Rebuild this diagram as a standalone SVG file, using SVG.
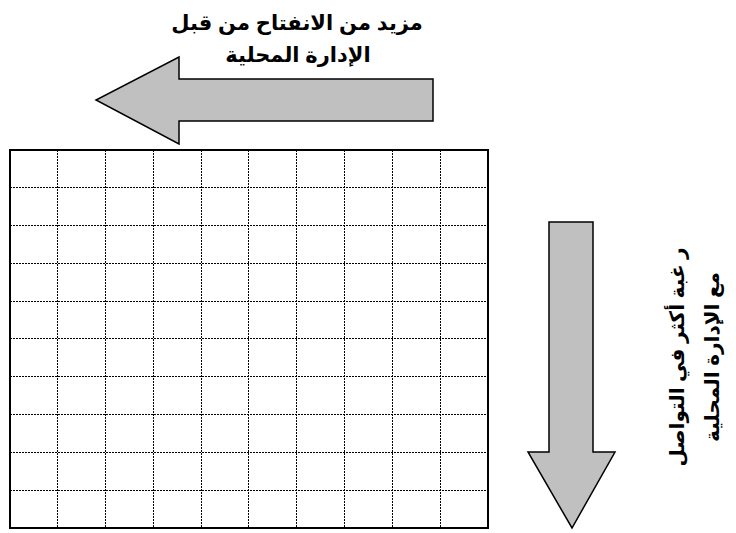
<svg xmlns="http://www.w3.org/2000/svg" width="736" height="533" viewBox="0 0 736 533">
<style>
.lbl{font-family:"Liberation Sans","DejaVu Sans",sans-serif;font-weight:bold;font-size:21px;fill:#000}
.vl{font-family:"Liberation Sans","DejaVu Sans",sans-serif;font-weight:bold;font-size:20px;fill:#000}
.arrow{fill:#c0c0c0;stroke:#000;stroke-width:1.5;stroke-linejoin:miter}
.g{stroke:#000;stroke-width:1;stroke-dasharray:2 1;fill:none}
</style>
<rect width="736" height="533" fill="#fff"/>
<g id="grid">
<g class="g">
<path d="M57.5 150V528M105.5 150V528M153.5 150V528M201.5 150V528M248.5 150V528M296.5 150V528M344.5 150V528M392.5 150V528M440.5 150V528"/>
<path d="M10 187.5H488M10 225.5H488M10 263.5H488M10 301.5H488M10 338.5H488M10 376.5H488M10 414.5H488M10 452.5H488M10 490.5H488"/>
</g>
<rect x="10" y="150" width="478" height="378" fill="none" stroke="#000" stroke-width="2"/>
</g>
<g id="arrow-left">
<path class="arrow" d="M433 79H179V57L96 100L179 144V121H433Z"/>
</g>
<g id="arrow-down">
<path class="arrow" d="M549 222H593V452H615L572 528L528 452H549Z"/>
</g>
<g id="label-top">
<text class="lbl" x="297" y="30" text-anchor="middle" direction="rtl">مزيد من الانفتاح من قبل</text>
<text class="lbl" x="298" y="62" text-anchor="middle" direction="rtl">الإدارة المحلية</text>
</g>
<g id="label-right">
<text class="vl" transform="translate(684,357) rotate(-90)" text-anchor="middle" direction="rtl">ر غبة أكثر في التواصل</text>
<text class="vl" transform="translate(719,357) rotate(-90)" text-anchor="middle" direction="rtl">مع الإدارة المحلية</text>
</g>
</svg>
